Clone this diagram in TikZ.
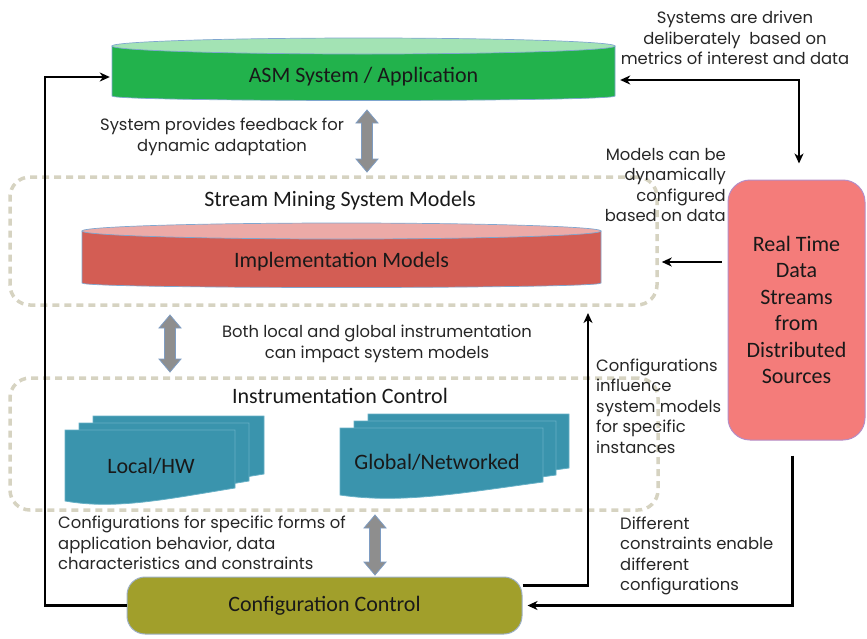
\documentclass[tikz,border=0pt]{standalone}
\usepackage{fontspec}
\setmainfont{Carlito}
\newfontfamily\gothic{Poppins}
\usetikzlibrary{arrows.meta,calc}

\definecolor{greenbody}{HTML}{22B24C}
\definecolor{greentop}{HTML}{A3E3B4}
\definecolor{redbody}{HTML}{D35D54}
\definecolor{redtop}{HTML}{ECAAA7}
\definecolor{rimblue}{HTML}{7FA6CF}
\definecolor{tealfill}{HTML}{3A94AD}
\definecolor{tealedge}{HTML}{67B0C6}
\definecolor{rtfill}{HTML}{F47C7A}
\definecolor{rtedge}{HTML}{B58DC6}
\definecolor{olive}{HTML}{A19F2B}
\definecolor{oliveedge}{HTML}{9DB0C4}
\definecolor{dashc}{HTML}{D6D3C1}
\definecolor{fatgray}{HTML}{8E8E8E}
\definecolor{fatedge}{HTML}{7E9CC2}

% double-headed grey arrow: x, top y, bottom y
\newcommand\fatarrow[3]{%
  \filldraw[fat] ({#1-5.5},{#2+13}) -- ({#1-11},{#2+13}) -- (#1,#2) -- ({#1+11},{#2+13})
    -- ({#1+5.5},{#2+13}) -- ({#1+5.5},{#3-13}) -- ({#1+11},{#3-13}) -- (#1,#3)
    -- ({#1-11},{#3-13}) -- ({#1-5.5},{#3-13}) -- cycle;}

% one page of a stacked document: left, top, right, bottom-left
\newcommand\sheet[4]{%
  \filldraw[sheet] (#1,#2) -- (#3,#2) -- (#3,{#4-13})
    .. controls ({#1+0.6*(#3-#1)},{#4-2}) and ({#1+0.3*(#3-#1)},{#4+9}) .. (#1,#4) -- cycle;}

% flat cylinder: left, right, top-ellipse centre y, ellipse y radius, side bottom y, bottom bulge, body colour, top colour
\newcommand\disc[8]{%
  \filldraw[fill=#7, draw=rimblue, line width=0.7pt] (#1,#3) -- (#1,#5)
    .. controls (#1,{#5+#6}) and (#2,{#5+#6}) .. (#2,#5) -- (#2,#3) -- cycle;
  \filldraw[fill=#8, draw=rimblue, line width=0.7pt] ({(#1+#2)/2},#3)
    ellipse [x radius={(#2-#1)/2*1pt}, y radius=#4pt];}

\begin{document}
\begin{tikzpicture}[x=1pt,y=-1pt,
  note/.style={font=\gothic\fontsize{16.4}{20.5}\selectfont, inner sep=0pt, text=black!85},
  lbl/.style={font=\fontsize{22}{26.5}\selectfont, inner sep=0pt, text=black!90},
  dashbox/.style={draw=dashc, line width=3.5pt, dash pattern=on 7pt off 5pt, rounded corners=20pt},
  link/.style={draw=black, line width=2.2pt, -{Stealth[length=10pt,width=9pt,inset=3pt]}},
  fat/.style={fill=fatgray, draw=fatedge, line width=0.8pt},
  sheet/.style={fill=tealfill, draw=tealedge, line width=0.8pt}]

\useasboundingbox (0,0) rectangle (867,638);

% dashed groups
\node[dashbox, minimum width=647pt, minimum height=128pt] (smm) at (333.5,241) {};
\node[dashbox, minimum width=648pt, minimum height=132pt] (ins) at (334,444) {};

% ASM system cylinder
\disc{112}{615}{46}{8}{96}{6}{greenbody}{greentop}
\node[lbl, minimum width=503pt, minimum height=46pt] (asm) at (363.5,77) {ASM System / Application};

% implementation models cylinder
\node[lbl] (smmtitle) at (340,201) {Stream Mining System Models};
\disc{82}{601}{231}{8}{283}{6}{redbody}{redtop}
\node[lbl, minimum width=519pt, minimum height=44pt] (imp) at (341.5,262) {Implementation Models};

% instrumentation control
\node[lbl] (institle) at (340,396) {Instrumentation Control};
\sheet{93}{416}{264}{487}
\sheet{79}{423}{249}{494}
\sheet{65}{430}{235}{501}
\node[lbl] (local) at (151,466) {Local/HW};
\sheet{368}{414}{569}{481}
\sheet{354}{421}{556}{488}
\sheet{340}{428}{543}{495}
\node[lbl] (global) at (437,462) {Global/Networked};

% real time data source
\node[lbl, align=center, draw=rtedge, fill=rtfill, line width=1pt, rounded corners=22pt,
      minimum width=137pt, minimum height=260pt] (rt) at (796.5,310)
      {Real Time\\Data\\Streams\\from\\Distributed\\Sources};

% configuration control
\node[lbl, draw=oliveedge, fill=olive, line width=1pt, rounded corners=18pt,
      minimum width=395pt, minimum height=57pt] (cfg) at (324.5,605.5) {Configuration Control};

% grey exchange arrows
\fatarrow{367}{110}{172}
\fatarrow{170}{315}{372}
\fatarrow{375}{515}{575}

% connectors
\coordinate (leftrail) at (45,0);
\draw[link] (cfg.west) -| (leftrail |- asm.west) -- ([xshift=-2pt]asm.west);
\coordinate (toprail) at (799,80);
\draw[link, {Stealth[length=10pt,width=9pt,inset=3pt]}-{Stealth[length=10pt,width=9pt,inset=3pt]}]
  ([xshift=5pt]asm.east |- toprail) -- (toprail) -- ([yshift=16pt]toprail |- rt.north);
\draw[link] ([xshift=-6pt]rt.west |- imp) -- ([xshift=3pt]smm.east |- imp);
\coordinate (uprail) at (588,313);
\draw[link] ([yshift=20pt]cfg.east) -| (uprail);
\draw[link] ([xshift=-4pt,yshift=-15pt]rt.south) |- ([xshift=5pt]cfg.east);

% annotations
\node[note, align=center] (n1) at (735,38) {Systems are driven\\deliberately\ \ based on\\metrics of interest and data};
\node[note, align=center] (n2) at (222,137) {System provides feedback for\\dynamic adaptation};
\node[note, align=right, anchor=east] (n3) at (726,185) {Models can be\\dynamically\\configured\\based on data};
\node[note, align=center] (n4) at (377,344) {Both local and global instrumentation\\can impact system models};
\node[note, align=left, anchor=west] (n5) at (596,406) {Configurations\\influence\\system models\\for specific\\instances};
\node[note, align=left, anchor=west] (n6) at (620,556) {Different\\constraints enable\\different\\configurations};
\node[note, align=left, anchor=west] (n7) at (58,543) {Configurations for specific forms of\\application behavior, data\\characteristics and constraints};

\end{tikzpicture}
\end{document}
